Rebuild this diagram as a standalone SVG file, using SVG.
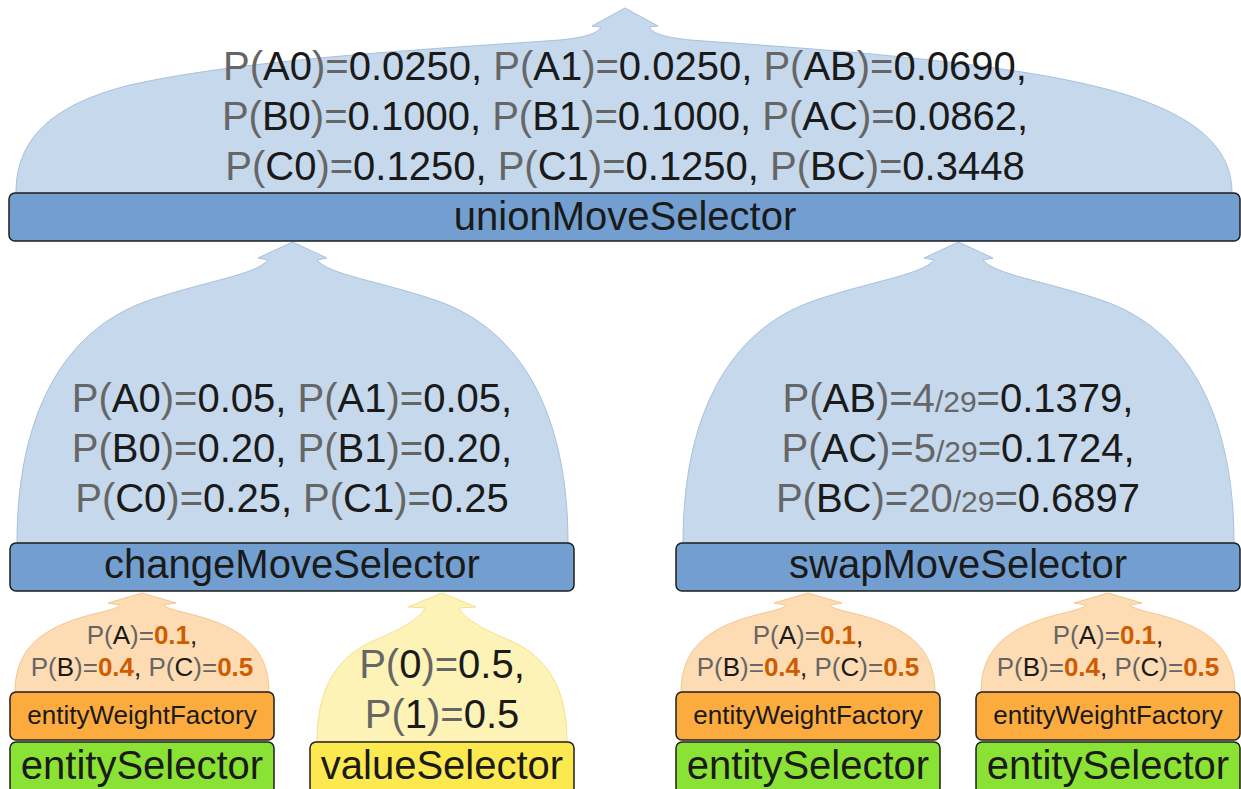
<svg xmlns="http://www.w3.org/2000/svg" width="1241" height="789" viewBox="0 0 1241 789">
<style>
text{font-family:"Liberation Sans",Arial,sans-serif;text-anchor:middle;fill:#1a1a1a}
.big{font-size:40px}
.sm{font-size:26px}
.g{fill:#666666}
.o{fill:#ce5c00;font-weight:bold}
.fr{font-size:30px;fill:#666666}
.bar{stroke:#1e1e1e;stroke-width:1.5}
.blue{fill:#729fcf}
.orange{fill:#fcab3e}
.green{fill:#8ae234}
.yellow{fill:#fce94f}
.fb{fill:#c5d8ec;stroke:#a7c0de;stroke-width:1}
.fo{fill:#fddcb3;stroke:#f5c690;stroke-width:1}
.fy{fill:#fdf3b6;stroke:#f2e290;stroke-width:1}
</style>
<rect width="1241" height="789" fill="#ffffff"/>
<g id="connectors">
<path class="fb" d="M16,193 C16,140 50,105 130,85 C250,58 450,48 560,40 C590,37 598,32 601,27 L592,26 L625,8 L658,26 L649,27 C652,32 660,37 690,40 C800,48 1000,60 1110,90 C1200,115 1232,150 1232,193 Z"/>
<path class="fb" d="M17,543 C17,420 60,330 150,300 C210,280 255,275 268,260 L258,258 L292.5,242 L327,258 L317,260 C330,275 375,280 435,300 C525,330 568,420 568,543 Z"/>
<path class="fb" transform="translate(666,0)" d="M17,543 C17,420 60,330 150,300 C210,280 255,275 268,260 L258,258 L292.5,242 L327,258 L317,260 C330,275 375,280 435,300 C525,330 568,420 568,543 Z"/>
<path class="fo" d="M15,692 C15,650 40,628 90,615 C110,610 118,608 120,605 L108,603 L142,593 L176,603 L164,605 C166,608 174,610 194,615 C244,628 269,650 269,692 Z"/>
<path class="fy" d="M317,742 C317,690 335,655 380,638 C410,625 422,615 425,608 L408,607 L442,593 L476,607 L459,608 C462,615 474,625 504,638 C549,655 567,690 567,742 Z"/>
<path class="fo" transform="translate(666,0)" d="M15,692 C15,650 40,628 90,615 C110,610 118,608 120,605 L108,603 L142,593 L176,603 L164,605 C166,608 174,610 194,615 C244,628 269,650 269,692 Z"/>
<path class="fo" transform="translate(966,0)" d="M15,692 C15,650 40,628 90,615 C110,610 118,608 120,605 L108,603 L142,593 L176,603 L164,605 C166,608 174,610 194,615 C244,628 269,650 269,692 Z"/>
<g id="labels">
<text class="big" x="625" y="80"><tspan class="g">P(</tspan>A0<tspan class="g">)=</tspan>0.0250, <tspan class="g">P(</tspan>A1<tspan class="g">)=</tspan>0.0250, <tspan class="g">P(</tspan>AB<tspan class="g">)=</tspan>0.0690,</text>
<text class="big" x="625" y="130"><tspan class="g">P(</tspan>B0<tspan class="g">)=</tspan>0.1000, <tspan class="g">P(</tspan>B1<tspan class="g">)=</tspan>0.1000, <tspan class="g">P(</tspan>AC<tspan class="g">)=</tspan>0.0862,</text>
<text class="big" x="625" y="180"><tspan class="g">P(</tspan>C0<tspan class="g">)=</tspan>0.1250, <tspan class="g">P(</tspan>C1<tspan class="g">)=</tspan>0.1250, <tspan class="g">P(</tspan>BC<tspan class="g">)=</tspan>0.3448</text>
<text class="big" x="292" y="412"><tspan class="g">P(</tspan>A0<tspan class="g">)=</tspan>0.05, <tspan class="g">P(</tspan>A1<tspan class="g">)=</tspan>0.05,</text>
<text class="big" x="292" y="462"><tspan class="g">P(</tspan>B0<tspan class="g">)=</tspan>0.20, <tspan class="g">P(</tspan>B1<tspan class="g">)=</tspan>0.20,</text>
<text class="big" x="292" y="512"><tspan class="g">P(</tspan>C0<tspan class="g">)=</tspan>0.25, <tspan class="g">P(</tspan>C1<tspan class="g">)=</tspan>0.25</text>
<text class="big" x="958" y="412"><tspan class="g">P(</tspan>AB<tspan class="g">)=4</tspan><tspan class="fr">/29</tspan><tspan class="g">=</tspan>0.1379,</text>
<text class="big" x="958" y="462"><tspan class="g">P(</tspan>AC<tspan class="g">)=5</tspan><tspan class="fr">/29</tspan><tspan class="g">=</tspan>0.1724,</text>
<text class="big" x="958" y="512"><tspan class="g">P(</tspan>BC<tspan class="g">)=20</tspan><tspan class="fr">/29</tspan><tspan class="g">=</tspan>0.6897</text>
<text class="sm" x="142" y="644"><tspan class="g">P(</tspan>A<tspan class="g">)=</tspan><tspan class="o">0.1</tspan>,</text>
<text class="sm" x="142" y="676"><tspan class="g">P(</tspan>B<tspan class="g">)=</tspan><tspan class="o">0.4</tspan>, <tspan class="g">P(</tspan>C<tspan class="g">)=</tspan><tspan class="o">0.5</tspan></text>
<text class="sm" x="808" y="644"><tspan class="g">P(</tspan>A<tspan class="g">)=</tspan><tspan class="o">0.1</tspan>,</text>
<text class="sm" x="808" y="676"><tspan class="g">P(</tspan>B<tspan class="g">)=</tspan><tspan class="o">0.4</tspan>, <tspan class="g">P(</tspan>C<tspan class="g">)=</tspan><tspan class="o">0.5</tspan></text>
<text class="sm" x="1108" y="644"><tspan class="g">P(</tspan>A<tspan class="g">)=</tspan><tspan class="o">0.1</tspan>,</text>
<text class="sm" x="1108" y="676"><tspan class="g">P(</tspan>B<tspan class="g">)=</tspan><tspan class="o">0.4</tspan>, <tspan class="g">P(</tspan>C<tspan class="g">)=</tspan><tspan class="o">0.5</tspan></text>
<text class="big" x="442" y="678"><tspan class="g">P(</tspan>0<tspan class="g">)=</tspan>0.5,</text>
<text class="big" x="442" y="728"><tspan class="g">P(</tspan>1<tspan class="g">)=</tspan>0.5</text>
</g>
</g>
<g id="unionMoveSelector">
<rect class="bar blue" x="9" y="193" width="1231" height="48" rx="6"/>
<text class="big" x="625" y="230">unionMoveSelector</text>
</g>
<g id="changeMoveSelector">
<rect class="bar blue" x="10" y="543" width="564" height="48" rx="6"/>
<text class="big" x="292" y="578">changeMoveSelector</text>
</g>
<g id="swapMoveSelector">
<rect class="bar blue" x="676" y="543" width="564" height="48" rx="6"/>
<text class="big" x="958" y="578">swapMoveSelector</text>
</g>
<g id="entityWeightFactory1">
<rect class="bar orange" x="10" y="692" width="264" height="48" rx="6"/>
<text class="sm" x="142" y="724">entityWeightFactory</text>
</g>
<g id="entitySelector1">
<rect class="bar green" x="10" y="742" width="264" height="52" rx="6"/>
<text class="big" x="142" y="779">entitySelector</text>
</g>
<g id="valueSelector">
<rect class="bar yellow" x="310" y="742" width="264" height="52" rx="6"/>
<text class="big" x="442" y="779">valueSelector</text>
</g>
<g id="entityWeightFactory2">
<rect class="bar orange" x="676" y="692" width="264" height="48" rx="6"/>
<text class="sm" x="808" y="724">entityWeightFactory</text>
</g>
<g id="entitySelector2">
<rect class="bar green" x="676" y="742" width="264" height="52" rx="6"/>
<text class="big" x="808" y="779">entitySelector</text>
</g>
<g id="entityWeightFactory3">
<rect class="bar orange" x="976" y="692" width="264" height="48" rx="6"/>
<text class="sm" x="1108" y="724">entityWeightFactory</text>
</g>
<g id="entitySelector3">
<rect class="bar green" x="976" y="742" width="264" height="52" rx="6"/>
<text class="big" x="1108" y="779">entitySelector</text>
</g>
</svg>
